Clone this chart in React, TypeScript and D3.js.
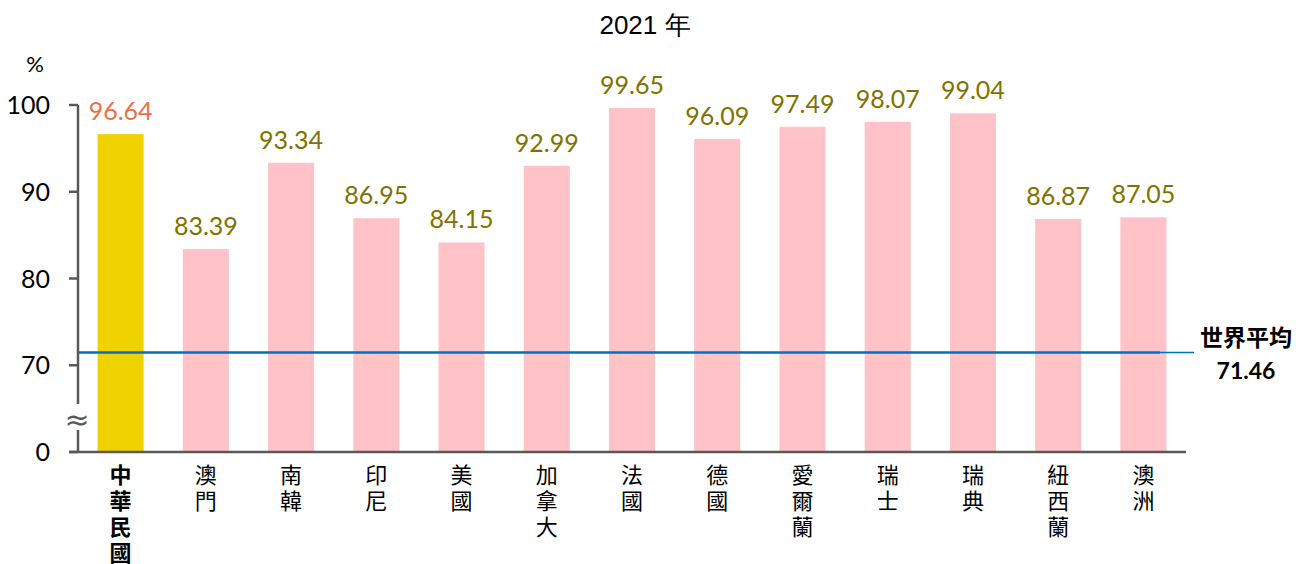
import * as d3 from "d3";

const categories = ["中華民國", "澳門", "南韓", "印尼", "美國", "加拿大", "法國", "德國", "愛爾蘭", "瑞士", "瑞典", "紐西蘭", "澳洲"];
const values = [96.64, 83.39, 93.34, 86.95, 84.15, 92.99, 99.65, 96.09, 97.49, 98.07, 99.04, 86.87, 87.05];
const tickValues = [60, 70, 80, 90, 100];
const tickLabels = ["0", "70", "80", "90", "100"];
const worldAverage = 71.46;

const WIDTH = 1313;
const HEIGHT = 564;
const AXIS_X = 78;
const AXIS_RIGHT = 1186;
const Y_TOP = 105;
const Y_BOTTOM = 452;

const NUM_FONT = "Lato, 'Liberation Sans', sans-serif";
const CJK_FONT = "'Noto Sans CJK TC', 'Noto Sans CJK SC', sans-serif";
const AXIS_COLOR = "#595959";

export default function App() {
  const x = d3.scaleBand<string>().domain(categories).range([AXIS_X, AXIS_RIGHT]).paddingInner(0.46).paddingOuter(0.23);
  const y = d3.scaleLinear().domain([60, 100]).range([Y_BOTTOM, Y_TOP]);
  const avgY = y(worldAverage);

  return (
    <svg width={WIDTH} height={HEIGHT} style={{ position: "absolute", left: 0, top: 0 }}>
      <rect width={WIDTH} height={HEIGHT} fill="#ffffff" />
      <text x={645} y={34} textAnchor="middle" fontSize="26" fontFamily="'Liberation Sans', Arial, sans-serif" fill="#000">
        2021 年
      </text>
      <text x={35} y={72} textAnchor="middle" fontSize="22" fontFamily={NUM_FONT} fill="#000">
        %
      </text>

      {categories.map((cat, i) => {
        const v = values[i];
        const bx = x(cat) ?? 0;
        const cx = bx + x.bandwidth() / 2;
        const first = i === 0;
        return (
          <g key={cat}>
            <rect x={bx} y={y(v)} width={x.bandwidth()} height={Y_BOTTOM - y(v)} fill={first ? "#F0D200" : "#FFC2C7"} />
            <text x={cx} y={y(v) - 14} textAnchor="middle" fontSize="25" fontFamily={NUM_FONT} fill={first ? "#EB7044" : "#7F7200"}>
              {v.toFixed(2)}
            </text>
            <text
              x={cx}
              y={464}
              writingMode="vertical-rl"
              letterSpacing="4"
              fontSize="22"
              fontWeight={first ? 700 : 400}
              fontFamily={CJK_FONT}
              fill="#000"
              style={{ textOrientation: "upright" }}
            >
              {cat}
            </text>
          </g>
        );
      })}

      {/* world average */}
      <line x1={AXIS_X} x2={1160} y1={avgY} y2={avgY} stroke="#0070C0" strokeWidth="2.5" />
      <line x1={1160} x2={1194} y1={avgY} y2={avgY} stroke="#0070C0" strokeWidth="1.5" />
      <text x={1246} y={346} textAnchor="middle" fontSize="23" fontWeight="700" fontFamily={CJK_FONT} fill="#000">
        世界平均
      </text>
      <text x={1246} y={379} textAnchor="middle" fontSize="23" fontWeight="700" fontFamily={NUM_FONT} fill="#000">
        {worldAverage.toFixed(2)}
      </text>

      {/* axes */}
      <line x1={AXIS_X} x2={AXIS_X} y1={Y_TOP} y2={Y_BOTTOM} stroke={AXIS_COLOR} strokeWidth="2.5" />
      <line x1={69} x2={AXIS_RIGHT} y1={Y_BOTTOM} y2={Y_BOTTOM} stroke={AXIS_COLOR} strokeWidth="2.5" />
      {tickValues.map((t, i) => (
        <g key={t}>
          <line x1={69} x2={AXIS_X} y1={y(t)} y2={y(t)} stroke={AXIS_COLOR} strokeWidth="2.5" />
          <text x={50} y={y(t) + 9} textAnchor="end" fontSize="25" fontFamily={NUM_FONT} fill="#000">
            {tickLabels[i]}
          </text>
        </g>
      ))}
      <rect x={AXIS_X - 10} y={404} width={20} height={26} fill="#fff" />
      <text x={AXIS_X - 1} y={430} textAnchor="middle" fontSize="30" fontFamily="'DejaVu Sans', sans-serif" fill={AXIS_COLOR}>
        ≈
      </text>
    </svg>
  );
}
